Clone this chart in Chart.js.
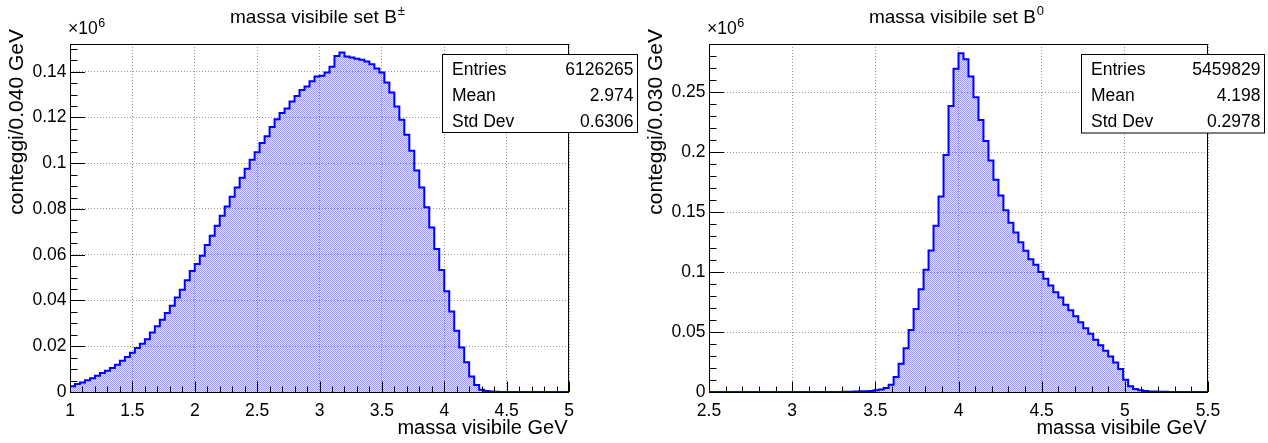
<!DOCTYPE html>
<html><head><meta charset="utf-8">
<script src="https://cdn.jsdelivr.net/npm/chart.js@4/dist/chart.umd.min.js"></script>
<style>
html,body{margin:0;padding:0;background:#fff;width:1268px;height:443px;overflow:hidden}
canvas{position:absolute;top:0}
#c1{left:0}
#c2{left:640px}
</style></head><body>
<canvas id="c1" width="640" height="443" style="width:640px;height:443px"></canvas>
<canvas id="c2" width="628" height="443" style="width:628px;height:443px"></canvas>
<script>
// ---- data (units of 10^6 counts per bin) ----
const binStartBpm = 1.0, binWidthBpm = 0.04;
const countsBpm = [
  0.0025, 0.0035, 0.0042, 0.0051, 0.0060, 0.0071, 0.0083, 0.0093, 0.0105, 0.0119,
  0.0137, 0.0153, 0.0172, 0.0192, 0.0211, 0.0231, 0.0260, 0.0287, 0.0316, 0.0345,
  0.0377, 0.0413, 0.0447, 0.0488, 0.0529, 0.0559, 0.0596, 0.0642, 0.0683, 0.0727,
  0.0770, 0.0811, 0.0853, 0.0894, 0.0936, 0.0976, 0.1015, 0.1048, 0.1088, 0.1118,
  0.1158, 0.1192, 0.1219, 0.1239, 0.1270, 0.1294, 0.1320, 0.1335, 0.1358, 0.1379,
  0.1382, 0.1396, 0.1422, 0.1469, 0.1484, 0.1466, 0.1462, 0.1456, 0.1452, 0.1444,
  0.1433, 0.1414, 0.1396, 0.1353, 0.1309, 0.1248, 0.1190, 0.1124, 0.1054, 0.0968,
  0.0894, 0.0807, 0.0719, 0.0625, 0.0533, 0.0440, 0.0352, 0.0268, 0.0195, 0.0130,
  0.0068, 0.0031, 0.0010, 0.0004, 0.0002, 0.0001, 0.00005, 0.00003, 0.00002, 0.00001,
  0, 0, 0, 0, 0, 0, 0, 0, 0, 0
];
const binStartB0 = 2.5, binWidthB0 = 0.03;
const countsB0 = [
  0, 0, 0, 0, 0, 0, 0, 0, 0, 0,
  0, 0, 0, 0, 0, 0, 0, 0, 0, 0,
  0, 0, 0, 0, 0, 0, 0, 0.0002, 0.0003, 0.0005,
  0.0006, 0.0007, 0.0009, 0.0014, 0.0020, 0.0033, 0.0061, 0.0125, 0.0236, 0.0364,
  0.0517, 0.0692, 0.0858, 0.1019, 0.1180, 0.1386, 0.1631, 0.1978, 0.2386, 0.2697,
  0.2825, 0.2775, 0.2631, 0.2458, 0.2270, 0.2094, 0.1931, 0.1770, 0.1639, 0.1517,
  0.1411, 0.1330, 0.1250, 0.1178, 0.1108, 0.1061, 0.1000, 0.0944, 0.0889, 0.0833,
  0.0789, 0.0728, 0.0681, 0.0631, 0.0581, 0.0531, 0.0486, 0.0436, 0.0389, 0.0344,
  0.0297, 0.0247, 0.0192, 0.0103, 0.0047, 0.0025, 0.0014, 0.0008, 0.0005, 0.0004,
  0.0003, 0.0002, 0.0001, 0.0001, 0, 0, 0, 0, 0, 0
];
const statsBpm = [["Entries", "6126265"], ["Mean", "2.974"], ["Std Dev", "0.6306"]];
const statsB0  = [["Entries", "5459829"], ["Mean", "4.198"], ["Std Dev", "0.2978"]];
const titleBpm = ["massa visibile set B", "\u00b1"];
const titleB0  = ["massa visibile set B", "0"];
const yTitleBpm = "conteggi/0.040 GeV";
const yTitleB0  = "conteggi/0.030 GeV";
const xTitle = "massa visibile GeV";

const FONT = '"Liberation Sans", Arial, Helvetica, sans-serif';

function hatch() {
  const c = document.createElement('canvas'); c.width = 2; c.height = 2;
  const g = c.getContext('2d');
  g.fillStyle = 'rgba(40,40,240,0.47)'; g.fillRect(0,0,1,1); g.fillRect(1,1,1,1);
  g.fillStyle = 'rgba(40,40,240,0.13)'; g.fillRect(1,0,1,1); g.fillRect(0,1,1,1);
  return g.createPattern(c, 'repeat');
}
function fmt(v) { return String(Math.round(v * 1000) / 1000); }

function decor(p) {
  return {
    id: 'rootDecor',
    afterDraw(chart) {
      const ctx = chart.ctx, a = chart.chartArea, xs = chart.scales.x, ys = chart.scales.y;
      ctx.save();
      ctx.strokeStyle = '#000'; ctx.lineWidth = 1; ctx.setLineDash([]);
      ctx.beginPath();
      for (let k = 0; ; k++) {
        const v = p.xmin + k * p.xMinor; if (v > p.xmax + 1e-9) break;
        const r = v / p.xMajor, major = Math.abs(r - Math.round(r)) < 1e-6;
        const px = Math.round(xs.getPixelForValue(v)) + 0.5;
        ctx.moveTo(px, a.bottom); ctx.lineTo(px, a.bottom - (major ? 10.5 : 5.5));
      }
      for (let k = 0; ; k++) {
        const v = k * p.yMinor; if (v > p.ymax + 1e-9) break;
        const r = v / p.yMajor, major = Math.abs(r - Math.round(r)) < 1e-6;
        const py = Math.round(ys.getPixelForValue(v)) + 0.5;
        ctx.moveTo(a.left, py); ctx.lineTo(a.left + (major ? 15 : 7.5), py);
      }
      ctx.stroke();
      ctx.strokeRect(a.left + 0.5, a.top + 0.5, a.right - a.left - 1, a.bottom - a.top);
      // stats box
      const b = p.box;
      ctx.fillStyle = '#fff'; ctx.fillRect(b.x, b.y, b.w, b.h);
      ctx.strokeRect(b.x, b.y, b.w, b.h);
      ctx.fillStyle = '#000';
      ctx.font = '17.5px ' + FONT; ctx.textBaseline = 'alphabetic';
      p.stats.forEach((row, i) => {
        const yb = b.y + 20 + i * 26.3;
        ctx.textAlign = 'left'; ctx.fillText(row[0], b.x + 9.5, yb);
        ctx.textAlign = 'right'; ctx.fillText(row[1], b.x + b.w - 4, yb);
      });
      // title, centred on the frame
      ctx.textAlign = 'left';
      ctx.font = '19px ' + FONT;
      const tw = ctx.measureText(p.title[0]).width;
      ctx.font = '13px ' + FONT;
      const sw = ctx.measureText(p.title[1]).width;
      const tx = (a.left + a.right) / 2 - (tw + sw + 1) / 2 - 2;
      ctx.font = '19px ' + FONT;
      ctx.fillText(p.title[0], tx, 23);
      ctx.font = '13px ' + FONT;
      ctx.fillText(p.title[1], tx + tw + 1, 15);
      // x10^6
      ctx.font = '17.5px ' + FONT;
      ctx.fillText('\u00d710', a.left - 2, 34);
      const mw = ctx.measureText('\u00d710').width;
      ctx.font = '12.5px ' + FONT;
      ctx.fillText('6', a.left - 2 + mw + 0.5, 27);
      // x title
      ctx.font = '20px ' + FONT; ctx.textAlign = 'right';
      ctx.fillText(xTitle, a.right - 1.5, 434);
      // y title (rotated, aligned at top end)
      ctx.save();
      ctx.translate(a.left - 47, 29);
      ctx.rotate(-Math.PI / 2);
      ctx.font = '21px ' + FONT; ctx.textAlign = 'right';
      ctx.fillText(p.yTitle, 0, 0);
      ctx.restore();
      ctx.restore();
    }
  };
}

function makeChart(id, p) {
  const pts = p.counts.map((v, i) => ({ x: p.lo + i * p.w, y: v }));
  pts.push({ x: p.lo + p.counts.length * p.w, y: p.counts[p.counts.length - 1] });
  return new Chart(document.getElementById(id), {
    type: 'line',
    data: { datasets: [{
      data: pts, stepped: 'before', borderColor: '#0000ff', borderWidth: 2,
      backgroundColor: hatch(), fill: 'origin', pointRadius: 0, tension: 0
    }] },
    options: {
      responsive: false, animation: false, devicePixelRatio: 1,
      layout: { padding: { left: 0, top: 44, right: p.padRight, bottom: 0 } },
      plugins: { legend: { display: false }, tooltip: { enabled: false }, title: { display: false } },
      scales: {
        x: {
          type: 'linear', min: p.xmin, max: p.xmax,
          afterFit: s => { s.height = 51; },
          ticks: { stepSize: p.xMajor, includeBounds: false, autoSkip: false, maxRotation: 0,
                   padding: 9, color: '#000', font: { family: FONT, size: 17.5 }, callback: fmt },
          grid: { drawTicks: false, color: '#9a9a9a', lineWidth: 1, borderDash: [1, 2] },
          border: { display: false, dash: [1, 2] }
        },
        y: {
          type: 'linear', min: 0, max: p.ymax,
          afterFit: s => { s.width = p.yw; },
          ticks: { stepSize: p.yMajor, includeBounds: false, padding: 3.5, color: '#000',
                   font: { family: FONT, size: 17.5 }, callback: fmt },
          grid: { drawTicks: false, color: '#9a9a9a', lineWidth: 1, borderDash: [1, 2] },
          border: { display: false, dash: [1, 2] }
        }
      }
    },
    plugins: [decor(p)]
  });
}

makeChart('c1', {
  counts: countsBpm, lo: binStartBpm, w: binWidthBpm,
  xmin: 1, xmax: 5, xMajor: 0.5, xMinor: 0.1,
  ymax: 0.1521, yMajor: 0.02, yMinor: 0.005,
  padRight: 71, yw: 70,
  box: { x: 442.5, y: 54.5, w: 195, h: 78 },
  stats: statsBpm, title: titleBpm, yTitle: yTitleBpm
});
makeChart('c2', {
  counts: countsB0, lo: binStartB0, w: binWidthB0,
  xmin: 2.5, xmax: 5.5, xMajor: 0.5, xMinor: 0.1,
  ymax: 0.2903, yMajor: 0.05, yMinor: 0.01,
  padRight: 60, yw: 69,
  box: { x: 441.5, y: 54.5, w: 183, h: 78.5 },
  stats: statsB0, title: titleB0, yTitle: yTitleB0
});
</script>
</body></html>
